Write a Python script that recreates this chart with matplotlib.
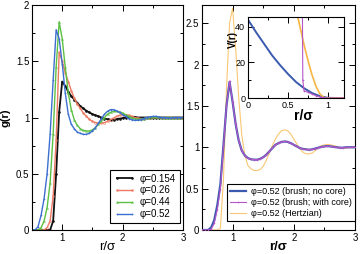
import matplotlib
matplotlib.use("Agg")
import matplotlib.pyplot as plt
from matplotlib.ticker import MultipleLocator, FormatStrFormatter
import numpy as np

plt.rcParams['font.family'] = ['Liberation Sans', 'DejaVu Sans']

# r/sigma grid shared by all g(r) curves
r = np.linspace(0.5, 3.0, 51)

# left panel: g(r) of brushes at several packing fractions
g_0154 = [0, 0, 0, 0, 0, 0, 0.0, 0.08, 0.5, 1.05,
          1.32, 1.28, 1.23, 1.19, 1.16, 1.13, 1.10, 1.08, 1.06, 1.045,
          1.03, 1.02, 1.01, 1.0, 0.99, 0.985, 0.98, 0.98, 0.985, 0.99,
          0.995, 1.0, 1.005, 1.005, 1.005, 1.0, 1.0, 1.0, 1.0, 1.0,
          1.0, 1.0, 1.0, 1.0, 1.0, 1.0, 1.0, 1.0, 1.0, 1.0, 1.0]
g_026 = [0, 0, 0, 0, 0, 0.02, 0.08, 0.3, 0.8, 1.58,
         1.50, 1.40, 1.32, 1.24, 1.17, 1.12, 1.08, 1.04, 1.01, 0.985,
         0.965, 0.955, 0.95, 0.95, 0.955, 0.965, 0.98, 0.995, 1.01, 1.02,
         1.025, 1.025, 1.02, 1.01, 1.0, 0.995, 0.99, 0.99, 0.995, 1.0,
         1.005, 1.005, 1.005, 1.0, 1.0, 1.0, 1.0, 1.0, 1.0, 1.0, 1.0]
g_044 = [0, 0, 0, 0.02, 0.08, 0.2, 0.42, 0.85, 1.45, 1.85,
         1.70, 1.45, 1.22, 1.07, 0.98, 0.93, 0.90, 0.885, 0.88, 0.88,
         0.89, 0.91, 0.94, 0.97, 1.0, 1.03, 1.045, 1.055, 1.055, 1.05,
         1.04, 1.025, 1.01, 0.995, 0.99, 0.985, 0.985, 0.99, 0.995, 1.0,
         1.005, 1.005, 1.005, 1.0, 1.0, 1.0, 1.0, 1.0, 1.0, 1.0, 1.0]
g_052 = [0, 0, 0.03, 0.13, 0.28, 0.5, 0.85, 1.33, 1.78, 1.70,
         1.48, 1.22, 1.03, 0.94, 0.90, 0.87, 0.86, 0.85, 0.85, 0.86,
         0.88, 0.91, 0.95, 0.99, 1.03, 1.055, 1.07, 1.07, 1.06, 1.045,
         1.025, 1.01, 0.99, 0.98, 0.975, 0.975, 0.98, 0.99, 1.0, 1.005,
         1.01, 1.01, 1.005, 1.0, 1.0, 0.995, 0.995, 1.0, 1.0, 1.0, 1.0]

# right panel: phi=0.52, brush without/with core and Hertzian
g_nocore = [0, 0, 0, 0.03, 0.12, 0.3, 0.55, 1.02, 1.5, 1.79,
            1.55, 1.28, 1.08, 0.96, 0.90, 0.87, 0.855, 0.85, 0.85, 0.86,
            0.88, 0.91, 0.95, 0.99, 1.03, 1.05, 1.065, 1.07, 1.065, 1.05,
            1.03, 1.01, 0.99, 0.98, 0.975, 0.97, 0.975, 0.985, 0.995, 1.005,
            1.01, 1.015, 1.01, 1.005, 1.0, 0.995, 0.995, 1.0, 1.0, 1.0, 1.0]
g_core = [0, 0, 0, 0.01, 0.08, 0.25, 0.5, 1.0, 1.5, 1.80,
          1.55, 1.28, 1.08, 0.96, 0.90, 0.87, 0.855, 0.85, 0.85, 0.86,
          0.88, 0.91, 0.95, 0.99, 1.03, 1.05, 1.065, 1.07, 1.065, 1.05,
          1.03, 1.01, 0.99, 0.98, 0.975, 0.97, 0.975, 0.985, 0.995, 1.005,
          1.01, 1.015, 1.01, 1.005, 1.0, 0.995, 0.995, 1.0, 1.0, 1.0, 1.0]
g_hertz = [0, 0, 0, 0, 0, 0, 0.02, 0.6, 1.7, 2.5,
           2.68, 2.2, 1.6, 1.15, 0.9, 0.78, 0.74, 0.72, 0.72, 0.73,
           0.77, 0.84, 0.93, 1.02, 1.1, 1.16, 1.2, 1.21, 1.2, 1.16,
           1.1, 1.04, 0.98, 0.94, 0.92, 0.92, 0.93, 0.96, 0.99, 1.02,
           1.03, 1.035, 1.03, 1.02, 1.01, 1.0, 0.99, 0.99, 0.995, 1.0, 1.0]

# inset: pair potentials V(r)
r_v = [0, 0.1, 0.2, 0.3, 0.4, 0.5, 0.6, 0.7, 0.8, 0.9, 1.0, 1.1, 1.2]
v_nocore = [44, 37, 30.5, 24, 18.5, 13.5, 9, 5.5, 2.8, 1.0, 0.1, 0, 0]
r_vcore = [0.68, 0.685, 0.7, 0.75, 0.8, 0.85, 0.9, 0.95, 1.0, 1.1, 1.2]
v_core = [50, 10, 4.0, 3.2, 2.2, 1.3, 0.6, 0.2, 0, 0, 0]
r_vh = [0.6, 0.65, 0.7, 0.75, 0.8, 0.85, 0.9, 0.95, 1.0, 1.1, 1.2]
v_hertz = [50, 40, 30, 21, 13, 6.5, 2.2, 0.2, 0, 0, 0]

c_black = '#111111'
c_red = '#ec7a62'
c_green = '#5cc043'
c_blue = '#3d6fd0'
c_nb = '#3a5aae'
c_purple = '#b655c8'
c_orange = '#f6b545'


def style_axes(ax, fs=7):
    ax.tick_params(which='both', direction='in', top=True, right=True,
                   labelsize=fs, pad=2, width=0.7)
    ax.tick_params(which='major', length=4)
    ax.tick_params(which='minor', length=2)
    for s in ax.spines.values():
        s.set_linewidth(0.8)


fig = plt.figure(figsize=(3.6, 2.54), dpi=100)

# ---- left panel
ax1 = fig.add_axes([32 / 360, 24 / 254, 151 / 360, 225 / 254])
ax1.plot(r, g_0154, '-o', color=c_black, lw=1.3, ms=1.4, mew=0.4, label='φ=0.154')
ax1.plot(r, g_026, '-o', color=c_red, lw=1.0, ms=1.4, mew=0.4, mfc='none', label='φ=0.26')
ax1.plot(r, g_044, '-^', color=c_green, lw=1.0, ms=1.4, mew=0.4, mfc='none', label='φ=0.44')
ax1.plot(r, g_052, '-+', color=c_blue, lw=1.0, ms=1.8, mew=0.4, label='φ=0.52')
ax1.set_xlim(0.5, 3)
ax1.set_ylim(0, 2)
ax1.xaxis.set_major_locator(MultipleLocator(1))
ax1.xaxis.set_minor_locator(MultipleLocator(0.5))
ax1.yaxis.set_major_locator(MultipleLocator(0.5))
ax1.yaxis.set_minor_locator(MultipleLocator(0.25))
ax1.yaxis.set_major_formatter(FormatStrFormatter('%g'))
style_axes(ax1)
ax1.set_ylabel('g(r)', fontsize=8, fontweight='bold', labelpad=4)
ax1.set_xlabel('r/σ', fontsize=9.5, labelpad=-1.5)
ax1.legend(loc='lower right', bbox_to_anchor=(0.98, 0.03), fontsize=7,
           numpoints=2, handlelength=2.2, handletextpad=0.5, borderpad=0.4,
           labelspacing=0.2, fancybox=False, edgecolor='black',
           framealpha=1, borderaxespad=0).get_frame().set_linewidth(0.8)

# ---- right panel
ax2 = fig.add_axes([202 / 360, 24 / 254, 153 / 360, 225 / 254])
ax2.plot(r, g_hertz, '-', color=c_orange, lw=0.8, alpha=0.75,
         label='φ=0.52 (Hertzian)', zorder=2)
ax2.plot(r, g_nocore, '-', color=c_nb, lw=1.6, label='φ=0.52 (brush; no core)', zorder=3)
ax2.plot(r, g_core, '-+', color=c_purple, lw=0.8, ms=1.8, mew=0.4,
         label='φ=0.52 (brush; with core)', zorder=4)
ax2.set_xlim(0.5, 3)
ax2.set_ylim(0, 2.72)
ax2.xaxis.set_major_locator(MultipleLocator(1))
ax2.xaxis.set_minor_locator(MultipleLocator(0.5))
ax2.yaxis.set_major_locator(MultipleLocator(0.5))
ax2.yaxis.set_minor_locator(MultipleLocator(0.25))
ax2.yaxis.set_major_formatter(FormatStrFormatter('%g'))
style_axes(ax2)
ax2.set_xlabel('r/σ', fontsize=9.5, fontweight='bold', labelpad=-1.5)
h, l = ax2.get_legend_handles_labels()
order = [1, 2, 0]
leg2 = ax2.legend([h[i] for i in order], [l[i] for i in order], loc='lower right',
                  bbox_to_anchor=(1.0, 0.04), fontsize=6.5, handlelength=1.7,
                  handletextpad=0.6, borderpad=0.35, labelspacing=0.2,
                  fancybox=False, edgecolor='black', framealpha=1, borderaxespad=0)
leg2.get_frame().set_linewidth(0.8)

# ---- inset
ax3 = fig.add_axes([248 / 360, 156 / 254, 96 / 360, 81 / 254])
ax3.plot(r_v, v_nocore, '-', color=c_nb, lw=1.4)
ax3.plot(r_vh, v_hertz, '-', color=c_orange, lw=1.2)
ax3.plot(r_vcore, v_core, '-+', color=c_purple, lw=0.8, ms=1.8, mew=0.4)
ax3.set_xlim(0, 1.2)
ax3.set_ylim(0, 45.5)
ax3.xaxis.set_major_locator(MultipleLocator(0.5))
ax3.xaxis.set_minor_locator(MultipleLocator(0.25))
ax3.yaxis.set_major_locator(MultipleLocator(20))
ax3.yaxis.set_minor_locator(MultipleLocator(10))
ax3.xaxis.set_major_formatter(FormatStrFormatter('%g'))
style_axes(ax3, fs=6.5)
ax3.set_ylabel('V(r)', fontsize=7, fontweight='bold')
ax3.yaxis.set_label_coords(-0.1, 0.72)
ax3.set_xlabel('r/σ', fontsize=10, fontweight='bold')
ax3.xaxis.set_label_coords(0.58, -0.14)

fig.savefig('out.png', dpi=100)
